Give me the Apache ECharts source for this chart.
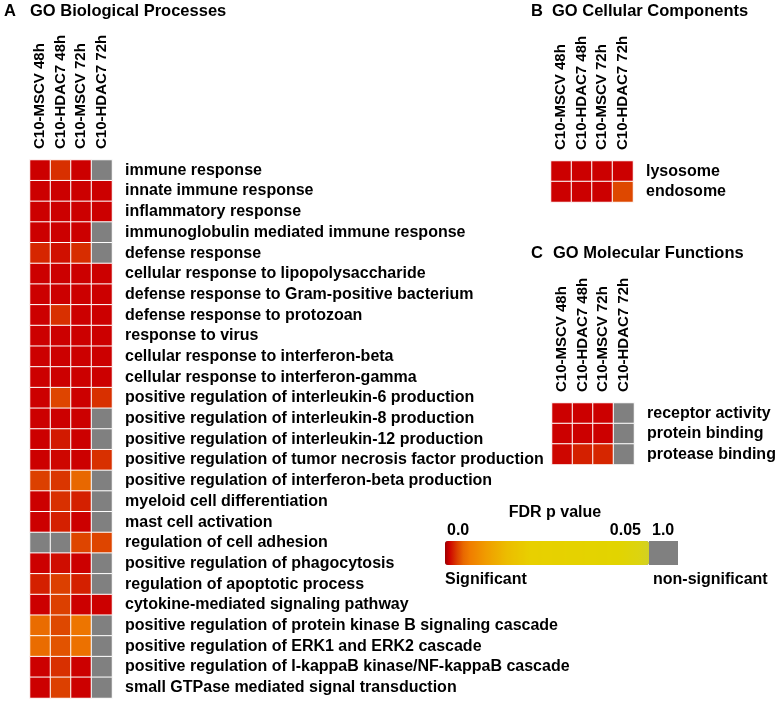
<!DOCTYPE html>
<html><head><meta charset="utf-8">
<script src="https://cdn.jsdelivr.net/npm/echarts@6/dist/echarts.min.js"></script>
<style>html,body{margin:0;padding:0;background:#fff}#c{width:779px;height:704px}</style>
</head><body><div id="c"></div>
<script>
// Column headers (shared by all three panels)
const columns = ['C10-MSCV 48h', 'C10-HDAC7 48h', 'C10-MSCV 72h', 'C10-HDAC7 72h'];

// A: GO Biological Processes (FDR p values; 1.0 = non-significant)
const bpTerms = [
  'immune response', 'innate immune response', 'inflammatory response',
  'immunoglobulin mediated immune response', 'defense response',
  'cellular response to lipopolysaccharide', 'defense response to Gram-positive bacterium',
  'defense response to protozoan', 'response to virus', 'cellular response to interferon-beta',
  'cellular response to interferon-gamma', 'positive regulation of interleukin-6 production',
  'positive regulation of interleukin-8 production', 'positive regulation of interleukin-12 production',
  'positive regulation of tumor necrosis factor production', 'positive regulation of interferon-beta production',
  'myeloid cell differentiation', 'mast cell activation', 'regulation of cell adhesion',
  'positive regulation of phagocytosis', 'regulation of apoptotic process',
  'cytokine-mediated signaling pathway', 'positive regulation of protein kinase B signaling cascade',
  'positive regulation of ERK1 and ERK2 cascade', 'positive regulation of I-kappaB kinase/NF-kappaB cascade',
  'small GTPase mediated signal transduction'
];
const bpMSCV48  = [0.001,0.001,0.001,0.001,0.0022,0.001,0.001,0.001,0.001,0.001,0.001,0.001,0.001,0.001,0.001,0.003,0.001,0.001,1.0,0.001,0.002,0.001,0.0048,0.0048,0.001,0.001];
const bpHDAC48  = [0.0025,0.001,0.001,0.001,0.0015,0.001,0.001,0.0025,0.001,0.001,0.001,0.0032,0.001,0.0018,0.0012,0.0027,0.0025,0.002,1.0,0.0014,0.003,0.003,0.0033,0.0037,0.0025,0.003];
const bpMSCV72  = [0.001,0.001,0.001,0.001,0.0024,0.001,0.001,0.001,0.001,0.001,0.001,0.001,0.001,0.001,0.001,0.0045,0.002,0.001,0.0032,0.001,0.002,0.001,0.0055,0.0052,0.001,0.001];
const bpHDAC72  = [1.0,0.001,0.001,1.0,1.0,0.001,0.001,0.001,0.001,0.001,0.001,0.0025,1.0,1.0,0.0025,1.0,1.0,1.0,0.0032,1.0,1.0,0.001,1.0,1.0,1.0,1.0];

// B: GO Cellular Components
const ccTerms = ['lysosome', 'endosome'];
const ccMSCV48 = [0.001, 0.001];
const ccHDAC48 = [0.001, 0.001];
const ccMSCV72 = [0.001, 0.001];
const ccHDAC72 = [0.001, 0.0033];

// C: GO Molecular Functions
const mfTerms = ['receptor activity', 'protein binding', 'protease binding'];
const mfMSCV48 = [0.001, 0.001, 0.0012];
const mfHDAC48 = [0.001, 0.001, 0.002];
const mfMSCV72 = [0.001, 0.001, 0.0022];
const mfHDAC72 = [1.0, 1.0, 1.0];

// Colour scale
const fdrMin = 0.0, fdrMax = 0.05;
const scaleTicks = ['0.0', '0.05', '1.0'];

function toCells(cols) {
  const out = [];
  cols.forEach((arr, x) => arr.forEach((v, y) => out.push([x, y, v])));
  return out;
}

// colour ramp stops (position along bar, colour)
const stops = [[0,'#9c0000'],[0.02,'#cc0000'],[0.06,'#dc4000'],[0.09,'#e86800'],[0.12,'#f07c00'],
  [0.2,'#f09c00'],[0.3,'#ecbc00'],[0.42,'#e8d000'],[0.85,'#e2d400'],[0.95,'#dcd410'],[1,'#d2d024']];
function hex(c){return [1,3,5].map(i=>parseInt(c.substr(i,2),16));}
function ramp(n){
  const res=[];
  for(let k=0;k<n;k++){
    const t=k/(n-1);
    let i=0; while(i<stops.length-2 && t>stops[i+1][0]) i++;
    const [p0,c0]=stops[i],[p1,c1]=stops[i+1];
    const f=(t-p0)/(p1-p0); const a=hex(c0), b=hex(c1);
    res.push('rgb('+a.map((v,j)=>Math.round(v+(b[j]-v)*f)).join(',')+')');
  }
  return res;
}

const FONT = '"Liberation Sans", Arial, sans-serif';
const chart = echarts.init(document.getElementById('c'), null, {renderer: 'canvas'});

function xAx(gi){
  return {type:'category', gridIndex:gi, data:columns, position:'top',
    axisLine:{show:false}, axisTick:{show:false}, splitLine:{show:false},
    axisLabel:{rotate:-90, interval:0, margin:11, color:'#000', fontWeight:'bold', fontSize:15, fontFamily:FONT}};
}
function yAx(gi, terms){
  return {type:'category', gridIndex:gi, data:terms, position:'right', inverse:true,
    axisLine:{show:false}, axisTick:{show:false}, splitLine:{show:false},
    axisLabel:{interval:0, margin:13, color:'#000', fontWeight:'bold', fontSize:16, fontFamily:FONT}};
}
function hm(gi, cells){
  return {type:'heatmap', xAxisIndex:gi, yAxisIndex:gi, data:cells,
    itemStyle:{borderColor:'#ffffff', borderWidth:1},
    emphasis:{disabled:true}, silent:true};
}
function txt(x, y, s, opt){
  return Object.assign({type:'text', x:x, y:y, silent:true,
    style:Object.assign({text:s, fill:'#000', font:'bold 16px '+FONT, textVerticalAlign:'middle'}, opt||{})});
}
const TFONT = 'bold 16.5px ' + FONT;

chart.setOption({
  animation:false,
  backgroundColor:'#fff',
  grid:[
    {left:30, top:160, width:82, height:538},
    {left:551, top:161, width:82, height:41},
    {left:552, top:403, width:82, height:61.5}
  ],
  xAxis:[xAx(0), xAx(1), xAx(2)],
  yAxis:[yAx(0, bpTerms), yAx(1, ccTerms), yAx(2, mfTerms)],
  visualMap:[{
    type:'continuous', min:fdrMin, max:fdrMax, range:[fdrMin, fdrMax], unboundedRange:false,
    seriesIndex:[0,1,2],
    orient:'horizontal', left:445, top:541, itemWidth:24, itemHeight:204,
    calculable:false, padding:0, text:null, showLabel:false, hoverLink:false,
    inRange:{color:ramp(101)}, outOfRange:{color:'#808080'}
  }],
  series:[
    hm(0, toCells([bpMSCV48, bpHDAC48, bpMSCV72, bpHDAC72])),
    hm(1, toCells([ccMSCV48, ccHDAC48, ccMSCV72, ccHDAC72])),
    hm(2, toCells([mfMSCV48, mfHDAC48, mfMSCV72, mfHDAC72]))
  ],
  graphic:[
    txt(4, 11, 'A', {font:TFONT}), txt(30, 11, 'GO Biological Processes', {font:TFONT}),
    txt(531, 11, 'B', {font:TFONT}), txt(552, 11, 'GO Cellular Components', {font:TFONT}),
    txt(531, 253, 'C', {font:TFONT}), txt(553, 253, 'GO Molecular Functions', {font:TFONT}),
    txt(555, 513, 'FDR p value', {textAlign:'center'}),
    txt(447, 531, scaleTicks[0]),
    txt(641, 531, scaleTicks[1], {textAlign:'right'}),
    txt(652, 531, scaleTicks[2]),
    {type:'rect', shape:{x:649, y:541, width:29, height:24}, style:{fill:'#808080'}, silent:true},
    txt(445, 580, 'Significant'),
    txt(653, 580, 'non-significant')
  ]
});
</script></body></html>
